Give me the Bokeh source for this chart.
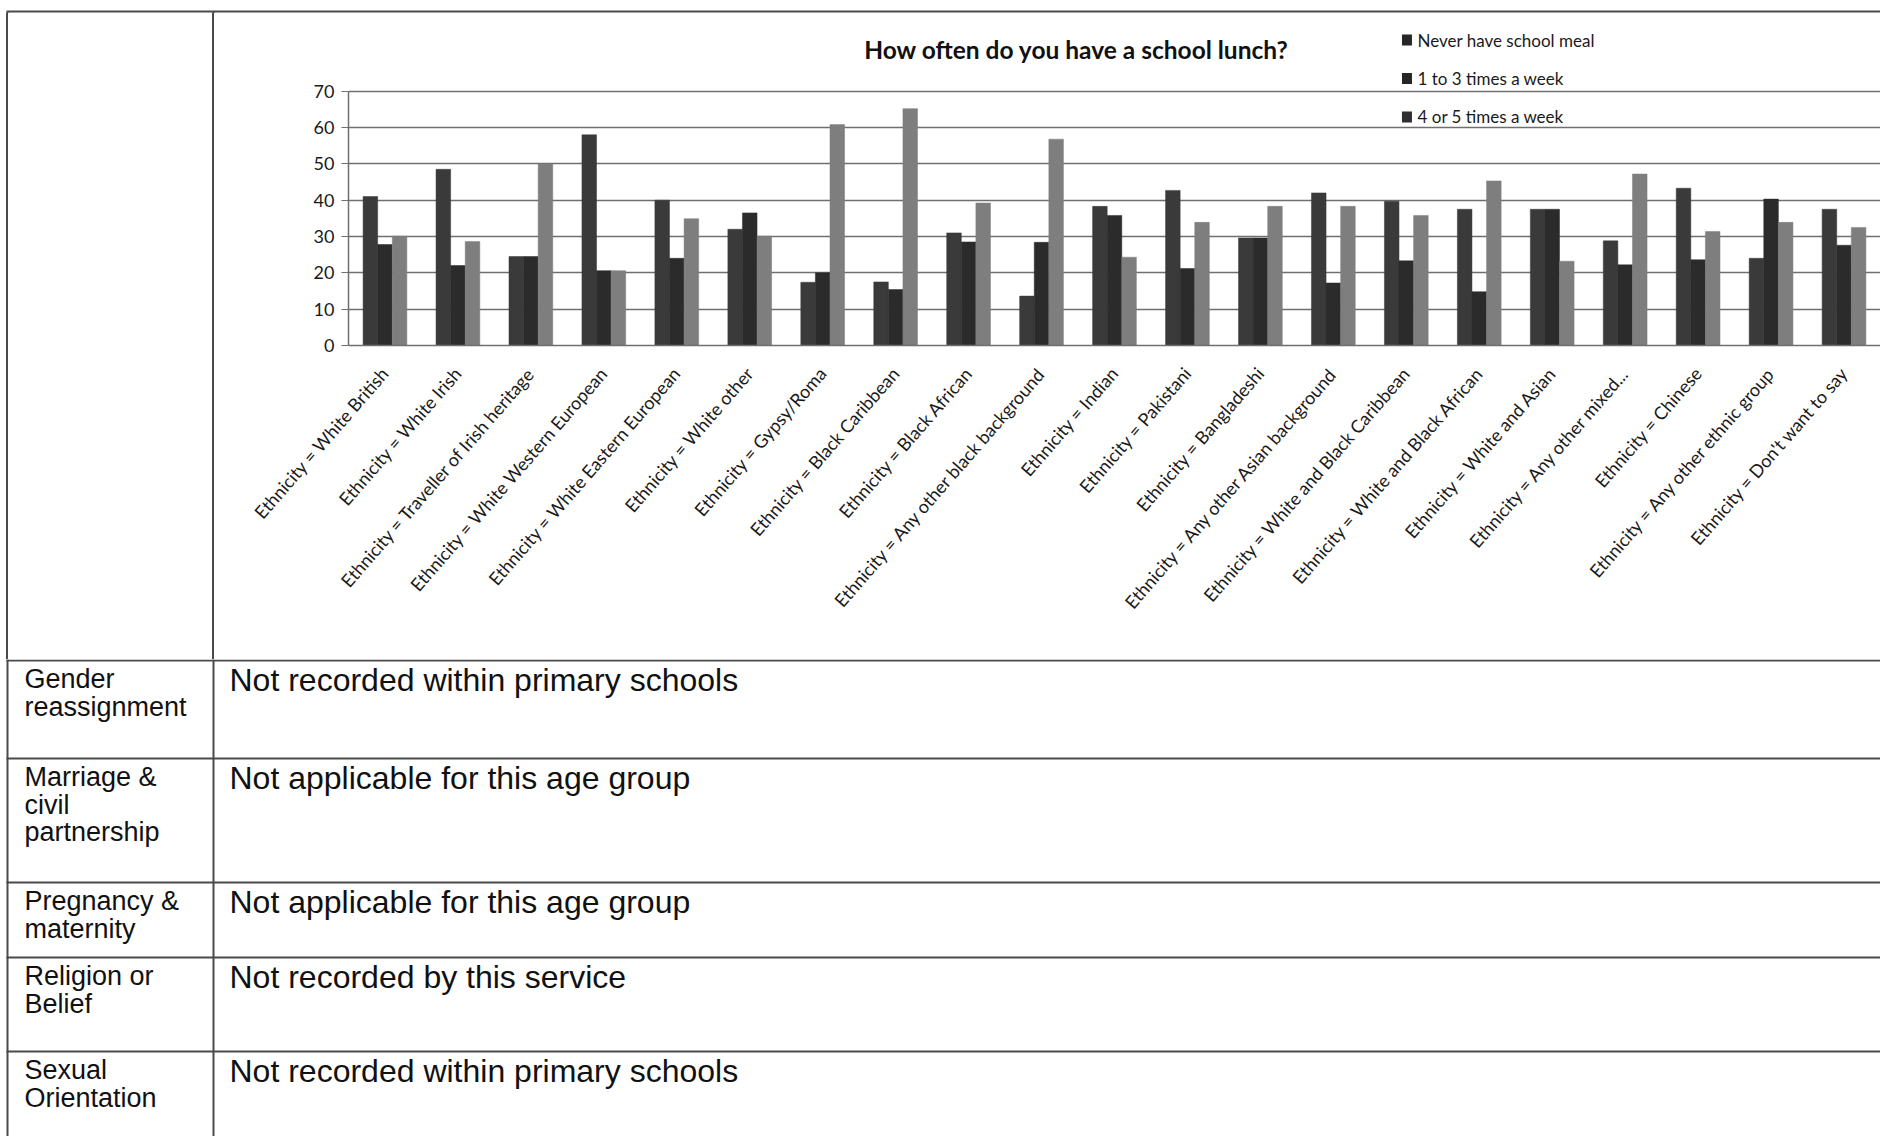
import numpy as np
from bokeh.plotting import figure
from bokeh.models import Range1d, FactorRange, FixedTicker, ColumnDataSource, Div
from bokeh.transform import dodge
from bokeh.layouts import column, row
from bokeh.core.properties import value
from bokeh.embed import file_html
from bokeh.resources import INLINE

# ---------------- data ----------------
categories = [
    "Ethnicity = White British",
    "Ethnicity = White Irish",
    "Ethnicity = Traveller of Irish heritage",
    "Ethnicity = White Western European",
    "Ethnicity = White Eastern European",
    "Ethnicity = White other",
    "Ethnicity = Gypsy/Roma",
    "Ethnicity = Black Caribbean",
    "Ethnicity = Black African",
    "Ethnicity = Any other black background",
    "Ethnicity = Indian",
    "Ethnicity = Pakistani",
    "Ethnicity = Bangladeshi",
    "Ethnicity = Any other Asian background",
    "Ethnicity = White and Black Caribbean",
    "Ethnicity = White and Black African",
    "Ethnicity = White and Asian",
    "Ethnicity = Any other mixed...",
    "Ethnicity = Chinese",
    "Ethnicity = Any other ethnic group",
    "Ethnicity = Don't want to say",
]
never_meal = [41.0, 48.5, 24.5, 58.0, 40.0, 32.0, 17.4, 17.5, 31.0, 13.6, 38.3,
              42.7, 29.6, 42.0, 39.7, 37.5, 37.5, 28.8, 43.3, 24.0, 37.5]
one_to_three = [27.8, 22.0, 24.5, 20.6, 24.0, 36.5, 20.0, 15.4, 28.5, 28.4, 35.8,
                21.2, 29.6, 17.2, 23.3, 14.8, 37.5, 22.2, 23.6, 40.3, 27.6]
four_or_five = [30.1, 28.6, 50.0, 20.6, 34.9, 30.1, 60.8, 65.2, 39.2, 56.8, 24.3,
                33.9, 38.3, 38.3, 35.8, 45.3, 23.2, 47.2, 31.4, 33.9, 32.5]
series_names = ["Never have school meal", "1 to 3 times a week", "4 or 5 times a week"]
y_ticks = [0, 10, 20, 30, 40, 50, 60, 70]
chart_title = "How often do you have a school lunch?"

row_headers = [["Gender", "reassignment"],
               ["Marriage &", "civil", "partnership"],
               ["Pregnancy &", "maternity"],
               ["Religion or", "Belief"],
               ["Sexual", "Orientation"]]
row_values = ["Not recorded within primary schools",
              "Not applicable for this age group",
              "Not applicable for this age group",
              "Not recorded by this service",
              "Not recorded within primary schools"]

# ---------------- layout constants (page pixels) ----------------
TOTAL_W = 1880
TOP_H = 13
ROW1_H = 646
BOT_H = 477
LEFT_W = 215
BORDER_X = 7
DIV_X = 213
LINE_COLOR = "#4a4a4a"
LINE_W = 2

bar_colors = ["#3a3a3a", "#2b2b2b", "#7e7e7e"]
legend_colors = ["#262626", "#262626", "#303030"]


def blank(w, h):
    f = figure(width=w, height=h, x_range=Range1d(0, w), y_range=Range1d(h, 0),
               x_axis_type=None, y_axis_type=None, toolbar_location=None,
               output_backend="svg", min_border=0)
    f.outline_line_color = None
    f.background_fill_color = "white"
    f.border_fill_color = "white"
    return f


# top strip with the table's top border
top = blank(TOTAL_W, TOP_H)
top.segment(x0=[BORDER_X - 1], y0=[11], x1=[TOTAL_W], y1=[11],
            line_color=LINE_COLOR, line_width=LINE_W)
top.segment(x0=[BORDER_X, DIV_X], y0=[11, 11], x1=[BORDER_X, DIV_X], y1=[TOP_H, TOP_H],
            line_color=LINE_COLOR, line_width=LINE_W)

# left empty cell of the chart row (borders only)
left = Div(text=(f'<div style="margin:0 0 0 {BORDER_X - 1}px;padding:0;'
                 f'width:{DIV_X - BORDER_X - 2}px;'
                 f'height:{ROW1_H}px;border-left:2px solid {LINE_COLOR};'
                 f'border-right:2px solid {LINE_COLOR};box-sizing:content-box"></div>'),
           width=LEFT_W, height=ROW1_H, margin=0)

# ---------------- chart ----------------
CH_W = TOTAL_W - LEFT_W
FR_LEFT = 133
FR_H = 332            # frame height (px)
Y70_PX = 77.7         # pixel row of value 70 from frame top
y_end = 70 * FR_H / (FR_H - Y70_PX)

p = figure(width=CH_W, height=ROW1_H,
           x_range=FactorRange(factors=categories, range_padding=0),
           y_range=Range1d(0, y_end),
           min_border_left=FR_LEFT, min_border_right=0, min_border_top=0,
           min_border_bottom=ROW1_H - FR_H,
           toolbar_location=None, output_backend="svg")
p.outline_line_color = None
p.background_fill_color = "white"
p.border_fill_color = "white"
p.extra_y_ranges = {"py": Range1d(FR_H, 0)}

src = ColumnDataSource(dict(cat=categories, never=never_meal,
                            mid=one_to_three, high=four_or_five))
for off, col, colr in zip([-0.2, 0.0, 0.2], ["never", "mid", "high"], bar_colors):
    p.vbar(x=dodge("cat", off, range=p.x_range), top=col, width=0.2, source=src,
           fill_color=colr, line_color=colr, line_width=0.5)

ticker = FixedTicker(ticks=y_ticks)
p.yaxis.ticker = ticker
p.ygrid.ticker = ticker
p.yaxis.bounds = (0, 70)
p.ygrid.grid_line_color = "#6f6f6f"
p.ygrid.grid_line_width = 1.5
p.xgrid.visible = False
p.yaxis.axis_line_color = "#6f6f6f"
p.yaxis.axis_line_width = 1.5
p.yaxis.major_tick_line_color = "#6f6f6f"
p.yaxis.major_tick_out = 7
p.yaxis.major_tick_in = 0
p.yaxis.minor_tick_line_color = None
p.yaxis.major_label_standoff = 7
p.yaxis.major_label_text_font = "Lato"
p.yaxis.major_label_text_font_size = "18px"
p.yaxis.major_label_text_color = "#1a1a1a"

p.xaxis.axis_line_color = "#6f6f6f"
p.xaxis.axis_line_width = 1.5
p.xaxis.major_tick_line_color = None
p.xaxis.major_tick_out = 0
p.xaxis.major_label_orientation = np.deg2rad(49)
p.xaxis.major_label_standoff = 24
p.xaxis.major_label_text_font = "Lato"
p.xaxis.major_label_text_font_size = "18px"
p.xaxis.major_label_text_color = "#1a1a1a"

# title inside the chart area (anchored to the category axis with an offset)
title_src = ColumnDataSource(dict(f=[categories[10]], y=[36], t=[chart_title]))
p.text(x=dodge("f", -0.52, range=p.x_range), y="y", text="t", source=title_src,
       y_range_name="py",
       text_font=value("Lato"), text_font_style="bold", text_font_size="24.5px",
       text_align="center", text_baseline="middle", text_color="#111111")

# legend
leg_src = ColumnDataSource(dict(f=[categories[14]] * 3, y=[26.6, 65.0, 103.4],
                                t=series_names, c=legend_colors))
p.rect(x=dodge("f", 0.009, range=p.x_range), y="y", width=10, height=11,
       width_units="screen", height_units="screen", source=leg_src, y_range_name="py",
       fill_color="c", line_color=None)
p.text(x=dodge("f", 0.154, range=p.x_range), y="y", text="t", source=leg_src,
       y_range_name="py",
       text_font=value("Lato"), text_font_size="17px", text_align="left",
       text_baseline="middle", text_color="#1a1a1a")

# ---------------- lower table ----------------
bot = blank(TOTAL_W, BOT_H)
row_lines = [1, 99, 223, 298, 392]
bot.segment(x0=[BORDER_X - 1] * len(row_lines), y0=row_lines,
            x1=[TOTAL_W] * len(row_lines), y1=row_lines,
            line_color=LINE_COLOR, line_width=LINE_W)
bot.segment(x0=[BORDER_X, DIV_X], y0=[0, 0], x1=[BORDER_X, DIV_X], y1=[BOT_H, BOT_H],
            line_color=LINE_COLOR, line_width=LINE_W)

hx, hy, ht = [], [], []
vx, vy, vt = [], [], []
for top_y, lines, val in zip(row_lines, row_headers, row_values):
    first = top_y + 18.5
    for i, ln in enumerate(lines):
        hx.append(24)
        hy.append(first + i * 27.5)
        ht.append(ln)
    vx.append(229)
    vy.append(first + 0.5)
    vt.append(val)

bot.text(x=hx, y=hy, text=ht, text_font=value("Liberation Sans"), text_font_size="27px",
         text_align="left", text_baseline="middle", text_color="#111111")
bot.text(x=vx, y=vy, text=vt, text_font=value("Liberation Sans"), text_font_size="32px",
         text_align="left", text_baseline="middle", text_color="#111111")

layout = column(top, row(left, p, spacing=0), bot, spacing=0)

open("out.html", "w").write(file_html(layout, INLINE))
